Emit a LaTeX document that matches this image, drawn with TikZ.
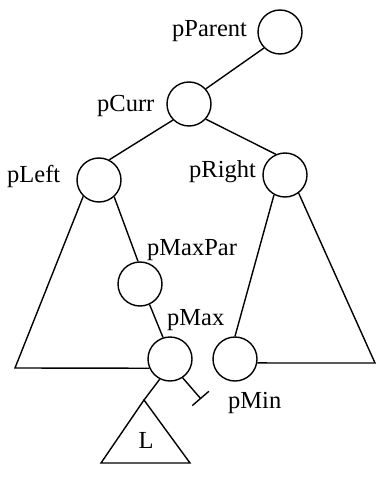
\documentclass[tikz,border=0pt]{standalone}
\usepackage{fontspec}
\setmainfont{Liberation Serif}
\usepackage{tikz}
\usetikzlibrary{positioning, arrows.meta}

\begin{document}
\begin{tikzpicture}[
    x=1pt, y=-1pt,
    font=\fontsize{24.5}{28}\selectfont,
    ptrnode/.style={circle, draw=black, line width=1.4pt, fill=white, minimum size=44pt, inner sep=0pt},
    ptrlabel/.style={anchor=base west, inner sep=0pt},
    plain_edge/.style={line width=1.4pt, black},
    null_edge/.style={-{Bar[width=22pt, line width=1.4pt]}, line width=1.4pt, black},
]
    \useasboundingbox (0,0) rectangle (391,481);

    % ===== Pointer nodes =====
    \node[ptrnode] (pParent) at (280,32) {};
    \node[ptrnode] (pCurr) at (189,104) {};
    \node[ptrnode] (pLeft) at (99,180) {};
    \node[ptrnode] (pRight) at (285,175) {};
    \node[ptrnode] (pMaxPar) at (140,284) {};
    \node[ptrnode] (pMax) at (170,359) {};
    \node[ptrnode] (pMin) at (235,359) {};

    % Labels
    \node[ptrlabel] (lblParent) at (172,37) {pParent};
    \node[ptrlabel] (lblCurr) at (97,112) {pCurr};
    \node[ptrlabel] (lblLeft) at (7,182) {pLeft};
    \node[ptrlabel] (lblRight) at (189,177) {pRight};
    \node[ptrlabel] (lblMaxPar) at (147,255) {pMaxPar};
    \node[ptrlabel] (lblMax) at (167,325) {pMax};
    \node[ptrlabel] (lblMin) at (228,408) {pMin};

    % Subtree corners
    \coordinate (leftCorner) at (15,368);
    \coordinate (rightCorner) at (375,363);
    \coordinate (subL) at (144,400);
    \coordinate (nullEnd) at (201,399);

    % ===== Edges =====
    \draw[plain_edge] (pParent.225) -- (pCurr.42);
    \draw[plain_edge] (pCurr.225) -- (pLeft.63);
    \draw[plain_edge] (pCurr.318) -- (pRight.114);
    \draw[plain_edge] (pLeft.312) -- (pMaxPar.95);
    \draw[plain_edge] (pMaxPar.295) -- (pMax.108);
    \draw[plain_edge] (pRight.241) -- (pMin.90);

    % Left and right subtrees
    \draw[plain_edge] (pLeft.226) -- (leftCorner) -- (pMax.204);
    \draw[plain_edge] (pRight.307) -- (rightCorner) -- (pMin.-10);

    % Subtree L and null right child of pMax
    \draw[plain_edge] (pMax.243) -- (subL);
    \draw[plain_edge] (subL) -- (101,463) -- (190,463) -- cycle;
    \node[anchor=base, inner sep=0pt] (lblL) at (146,448) {L};
    \draw[null_edge] (pMax.304) -- (nullEnd);

\end{tikzpicture}
\end{document}
